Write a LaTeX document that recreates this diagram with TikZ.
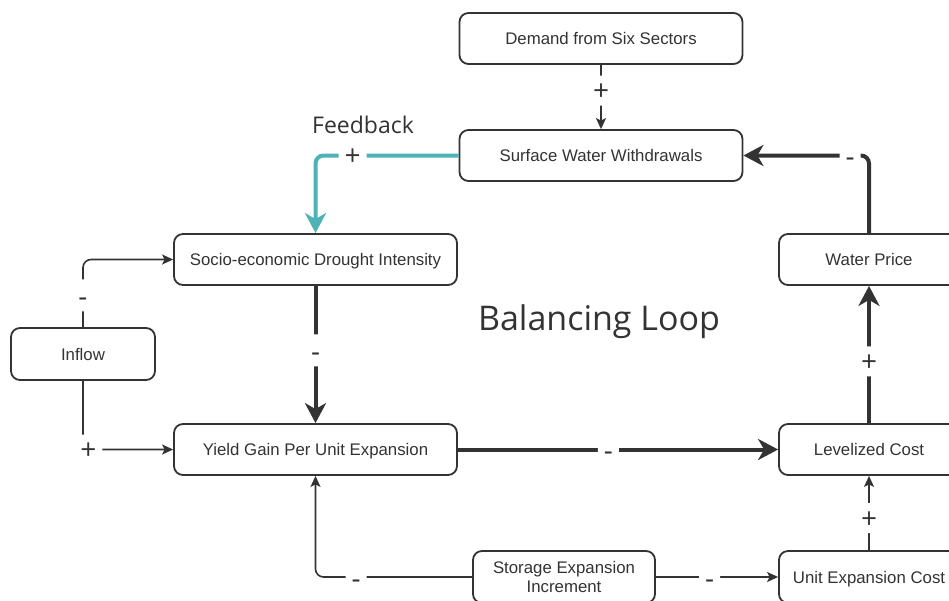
\documentclass[tikz,border=0pt]{standalone}
\usepackage{fontspec}
\setmainfont{Liberation Sans}
\newfontfamily\opensans{Open Sans}
\usetikzlibrary{arrows.meta}
\definecolor{ink}{HTML}{333333}
\definecolor{tealc}{HTML}{4DB3B7}
\begin{document}
\begin{tikzpicture}[x=1pt,y=-1pt,
  boxbase/.style={draw=ink,line width=1.8pt,rounded corners=9pt,fill=white,text=ink,
    minimum width=283pt,minimum height=51pt,inner sep=2pt,align=center,
    font=\fontsize{16.8}{19}\selectfont},
  box/.style={boxbase,text height=14pt,text depth=2pt},
  thinln/.style={draw=ink,line width=1.6pt,rounded corners=8pt,-{Stealth[length=11pt,width=10pt,inset=2.5pt]}},
  thickln/.style={draw=ink,line width=4pt,rounded corners=8pt,-{Stealth[length=20pt,width=21pt,inset=6pt]}},
  tealln/.style={draw=tealc,line width=4pt,rounded corners=8pt,-{Stealth[length=20pt,width=21pt,inset=6pt]}},
  sign/.style={fill=white,text=ink,inner xsep=6pt,inner ysep=3pt,font=\opensans\fontsize{28}{30}\selectfont},
  splus/.style={sign,text height=22pt,text depth=2pt},
  sminus/.style={sign,text height=24pt,text depth=2pt}
]
\useasboundingbox (0,0) rectangle (949,600);
\fill[white] (0,0) rectangle (949,600);

\node[box] (dem) at (601,38.5) {Demand from Six Sectors};
\node[box] (sw) at (601,155.5) {Surface Water Withdrawals};
\node[box] (soc) at (315.5,259.5) {Socio-economic Drought Intensity};
\node[box,minimum width=180pt] (wp) at (869,259.5) {Water Price};
\node[box,minimum width=144pt,minimum height=52pt] (inf) at (83,354) {Inflow};
\node[box] (yg) at (315.5,449.5) {Yield Gain Per Unit Expansion};
\node[box,minimum width=180pt] (lc) at (869,449.5) {Levelized Cost};
\node[boxbase,minimum width=182pt,minimum height=52pt] (st) at (564,577) {Storage Expansion\\Increment};
\node[box,minimum width=180pt,minimum height=52pt] (uec) at (869,577) {Unit Expansion Cost};

\node[text=ink,font=\opensans\fontsize{34}{40}\selectfont] (bl) at (599,322) {Balancing Loop};
\node[text=ink,font=\opensans\fontsize{23}{27}\selectfont] (fb) at (363,125) {Feedback};

\draw[thinln] (dem) -- node[splus,pos=0.4]{+} (sw);
\draw[tealln] (sw.west) -| node[splus,pos=0.37]{+} (soc.north);
\draw[thickln] (wp.north) |- node[sminus,pos=0.575]{-} (sw.east);
\draw[thickln] (lc) -- node[splus,pos=0.45]{+} (wp);
\draw[thickln] (yg) -- node[sminus,pos=0.47]{-} (lc);
\draw[thickln] (soc) -- node[sminus,pos=0.47]{-} (yg);
\draw[thinln] (inf.north) |- node[sminus,pos=0.235]{-} (soc.west);
\draw[thinln] (inf.south) |- node[splus,pos=0.53]{+} (yg.west);
\draw[thinln] (st.west) -| node[sminus,pos=0.37]{-} (yg.south);
\draw[thinln] (st) -- node[sminus,pos=0.44]{-} (uec);
\draw[thinln] (uec) -- node[splus,pos=0.43]{+} (lc);
\end{tikzpicture}
\end{document}
